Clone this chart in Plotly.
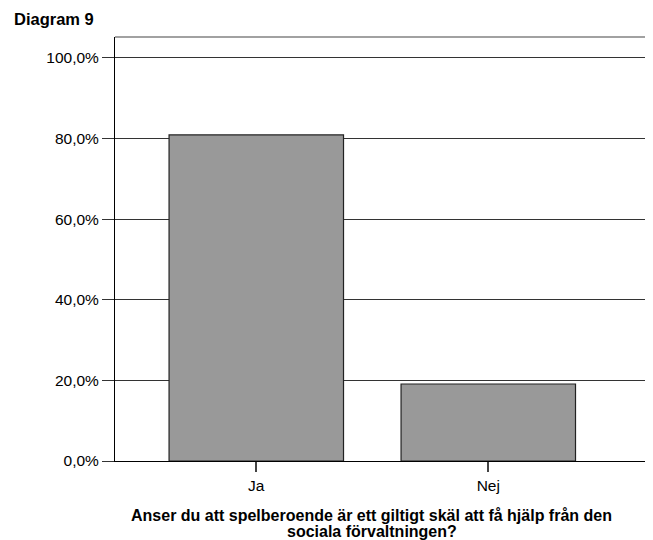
import plotly.graph_objects as go

categories = ["Ja", "Nej"]
values = [80.9, 19.1]
y_tickvals = [0, 20, 40, 60, 80, 100]
y_ticktext = ["0,0%", "20,0%", "40,0%", "60,0%", "80,0%", "100,0%"]
title_text = "Diagram 9"
x_title_lines = ["Anser du att spelberoende är ett giltigt skäl att få hjälp från den",
                 "sociala förvaltningen?"]

FONT = "Liberation Sans, Arial, sans-serif"

fig = go.Figure()
fig.add_trace(go.Bar(
    x=[0, 1], y=values, width=0.752,
    marker=dict(color="#999999", line=dict(color="#222222", width=1.2)),
))

annotations = [
    dict(text="<b>" + title_text + "</b>", xref="paper", yref="paper",
         x=-0.1915, y=1.0425, xanchor="left", yanchor="middle",
         showarrow=False, font=dict(size=16.5)),
]
for i, line in enumerate(x_title_lines):
    annotations.append(dict(
        text="<b>" + line + "</b>", xref="paper", yref="paper",
        x=0.477, y=-0.1274 - i * 0.0394, xanchor="center", yanchor="middle",
        showarrow=False, font=dict(size=16)))

fig.update_layout(
    width=645, height=532,
    margin=dict(l=107, r=0, t=29, b=79),
    paper_bgcolor="white", plot_bgcolor="white",
    showlegend=False,
    font=dict(family=FONT, size=15.5, color="#000000"),
    xaxis=dict(
        range=[-0.609, 1.71], tickvals=[0, 1], ticktext=categories,
        showgrid=False, zeroline=False,
        showline=True, linecolor="#000000", linewidth=1,
        ticks="outside", ticklen=10, tickcolor="#444444", tickwidth=2,
        tickfont=dict(size=15.5),
    ),
    yaxis=dict(
        range=[0, 105.2], tickvals=y_tickvals, ticktext=y_ticktext,
        showgrid=True, gridcolor="#333333", gridwidth=1,
        zeroline=False,
        showline=True, linecolor="#000000", linewidth=1,
        ticks="outside", ticklen=12, tickcolor="#333333", tickwidth=1,
        tickfont=dict(size=15.5),
    ),
    shapes=[
        dict(type="line", xref="paper", yref="paper", x0=0, x1=1, y0=1, y1=1,
             line=dict(color="#444444", width=1.2)),
    ],
    annotations=annotations,
)

fig.write_html("out.html")
